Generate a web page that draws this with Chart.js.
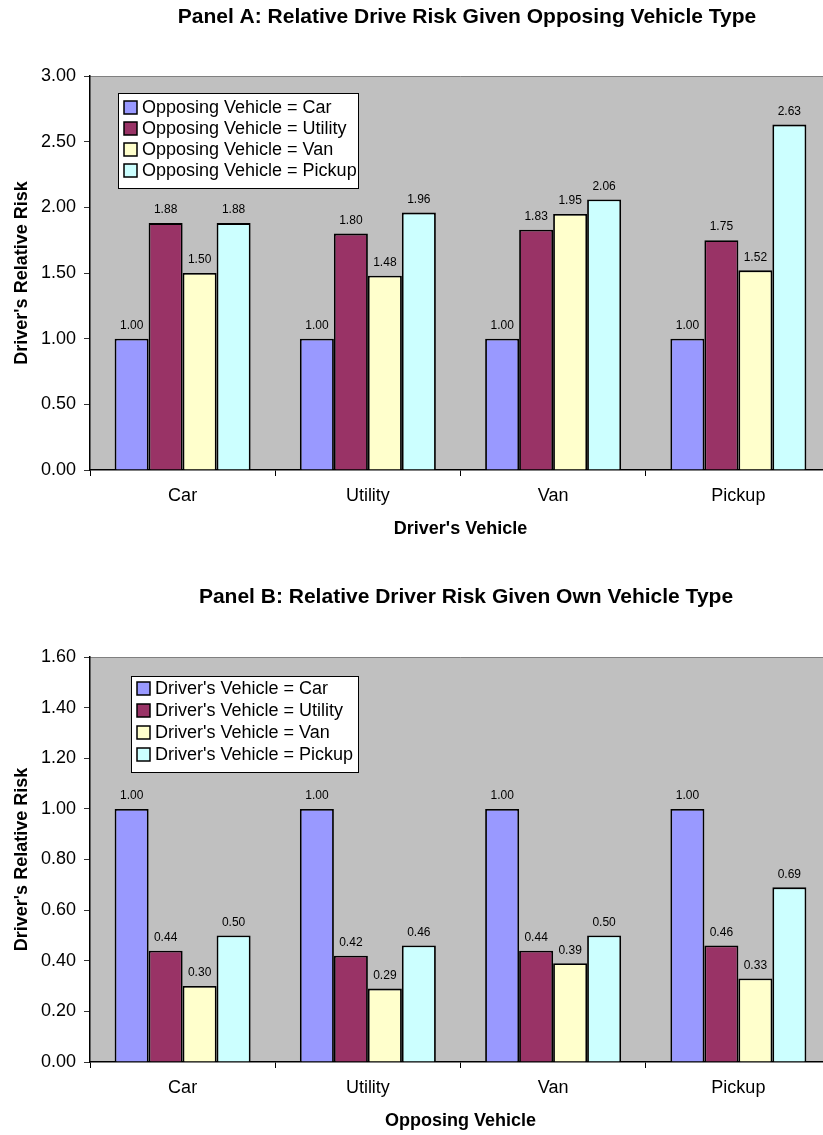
<!DOCTYPE html>
<html>
<head>
<meta charset="utf-8">
<script src="https://cdn.jsdelivr.net/npm/chart.js@4/dist/chart.umd.min.js"></script>
<style>
  html, body { margin: 0; padding: 0; background: #fff; }
  #wrap { position: relative; width: 823px; height: 1135px; overflow: hidden; }
  canvas { position: absolute; left: 0; }
  #cA { top: 0; }
  #cB { top: 545px; }
</style>
</head>
<body>
<div id="wrap">
  <canvas id="cA" width="831" height="545"></canvas>
  <canvas id="cB" width="831" height="590"></canvas>
</div>
<script>
// categories
const categoriesA = ["Car", "Utility", "Van", "Pickup"];
const categoriesB = ["Car", "Utility", "Van", "Pickup"];

// Panel A: driver's vehicle on x, series = opposing vehicle
const legendA = ["Opposing Vehicle = Car", "Opposing Vehicle = Utility", "Opposing Vehicle = Van", "Opposing Vehicle = Pickup"];
const aCar    = [1.00, 1.00, 1.00, 1.00];
const aUtility = [1.88, 1.80, 1.83, 1.75];
const aVan    = [1.50, 1.48, 1.95, 1.52];
const aPickup = [1.88, 1.96, 2.06, 2.63];

// Panel B: opposing vehicle on x, series = driver's vehicle
const legendB = ["Driver's Vehicle = Car", "Driver's Vehicle = Utility", "Driver's Vehicle = Van", "Driver's Vehicle = Pickup"];
const bCar    = [1.00, 1.00, 1.00, 1.00];
const bUtility = [0.44, 0.42, 0.44, 0.46];
const bVan    = [0.30, 0.29, 0.39, 0.33];
const bPickup = [0.50, 0.46, 0.50, 0.69];

const colors = ["#9999FF", "#993366", "#FFFFCC", "#CCFFFF"];
const FONT = '"Liberation Sans", Arial, Helvetica, sans-serif';

Chart.defaults.font.family = FONT;
Chart.defaults.color = "#000";

// grey plot area + top border
const plotBg = {
  id: "plotBg",
  beforeDraw(chart){
    const { ctx, chartArea: a } = chart;
    ctx.save();
    ctx.fillStyle = "#C0C0C0";
    ctx.fillRect(a.left, a.top, a.right - a.left, a.bottom - a.top);
    ctx.strokeStyle = "#808080";
    ctx.lineWidth = 1;
    ctx.beginPath();
    ctx.moveTo(a.left, a.top + 0.5);
    ctx.lineTo(a.right, a.top + 0.5);
    ctx.stroke();
    ctx.restore();
  }
};

// value labels above bars
const valueLabels = {
  id: "valueLabels",
  afterDatasetsDraw(chart){
    const { ctx } = chart;
    ctx.save();
    ctx.font = "12px " + FONT;
    ctx.fillStyle = "#000";
    ctx.textAlign = "center";
    ctx.textBaseline = "bottom";
    chart.data.datasets.forEach((ds, i) => {
      chart.getDatasetMeta(i).data.forEach((bar, j) => {
        ctx.fillText(Number(ds.data[j]).toFixed(2), bar.x, bar.y - 7);
      });
    });
    ctx.restore();
  }
};

// boxed legend inside the plot, and the panel title
const boxLegend = {
  id: "boxLegend",
  afterDraw(chart, args, opts){
    const { ctx } = chart;
    ctx.save();
    ctx.fillStyle = "#fff";
    ctx.fillRect(opts.x, opts.y, opts.w, opts.h);
    ctx.strokeStyle = "#000";
    ctx.lineWidth = 1;
    ctx.strokeRect(opts.x + 0.5, opts.y + 0.5, opts.w, opts.h);
    ctx.font = "18px " + FONT;
    ctx.textBaseline = "middle";
    chart.data.datasets.forEach((ds, i) => {
      const cy = opts.y + opts.first + i * opts.step;
      ctx.fillStyle = ds.backgroundColor;
      ctx.fillRect(opts.x + 6, cy - 6, 13, 13);
      ctx.lineWidth = 1.5;
      ctx.strokeRect(opts.x + 6, cy - 6, 13, 13);
      ctx.fillStyle = "#000";
      ctx.fillText(ds.label, opts.x + 24, cy + 1);
    });
    // panel title
    ctx.font = "bold 21px " + FONT;
    ctx.textAlign = "center";
    ctx.fillText(opts.title, opts.titleX, opts.titleY);
    ctx.restore();
  }
};

function makeChart(id, cats, labels, series, yMax, yStep, opts){
  return new Chart(document.getElementById(id), {
    type: "bar",
    data: {
      labels: cats,
      datasets: series.map((d, i) => ({
        label: labels[i],
        data: d,
        backgroundColor: colors[i],
        borderColor: "#000",
        borderWidth: 1.8,
        categoryPercentage: 0.734,
        barPercentage: 1.0
      }))
    },
    options: {
      responsive: false,
      animation: false,
      layout: { padding: { top: opts.top, right: 0, bottom: 0, left: 0 } },
      plugins: {
        legend: { display: false },
        tooltip: { enabled: false },
        boxLegend: opts.legend
      },
      scales: {
        x: {
          afterFit(s){ s.height = opts.xh; },
          grid: { display: true, drawOnChartArea: false, drawTicks: true, tickLength: 6, offset: true, color: "#000" },
          border: { display: true, color: "#000", width: 1.5 },
          ticks: { font: { size: 18 }, color: "#000", padding: 9 },
          title: { display: true, text: opts.xTitle, font: { size: 18, weight: "bold" }, color: "#000", padding: { top: 0, bottom: opts.xTitlePad } }
        },
        y: {
          min: 0, max: yMax,
          afterFit(s){ s.width = 90; },
          grid: { display: true, drawOnChartArea: false, drawTicks: true, tickLength: 6, color: "#333" },
          border: { display: true, color: "#000", width: 1.5 },
          ticks: { stepSize: yStep, font: { size: 18 }, color: "#000", padding: 8,
                   callback: v => Number(v).toFixed(2) },
          title: { display: true, text: "Driver's Relative Risk", font: { size: 18, weight: "bold" }, color: "#000", padding: { top: 11, bottom: 0 } }
        }
      }
    },
    plugins: [plotBg, valueLabels, boxLegend]
  });
}

makeChart("cA", categoriesA, legendA, [aCar, aUtility, aVan, aPickup], 3, 0.5, {
  top: 76, xh: 545 - 470, xTitle: "Driver's Vehicle", xTitlePad: 5,
  legend: { x: 118, y: 93, w: 240, h: 95, first: 14, step: 21,
            title: "Panel A: Relative Drive Risk Given Opposing Vehicle Type", titleX: 467, titleY: 17 }
});

makeChart("cB", categoriesB, legendB, [bCar, bUtility, bVan, bPickup], 1.6, 0.2, {
  top: 112, xh: 590 - 517, xTitle: "Opposing Vehicle", xTitlePad: 3,
  legend: { x: 131, y: 131, w: 227, h: 96, first: 12, step: 22,
            title: "Panel B: Relative Driver Risk Given Own Vehicle Type", titleX: 466, titleY: 52 }
});
</script>
</body>
</html>
